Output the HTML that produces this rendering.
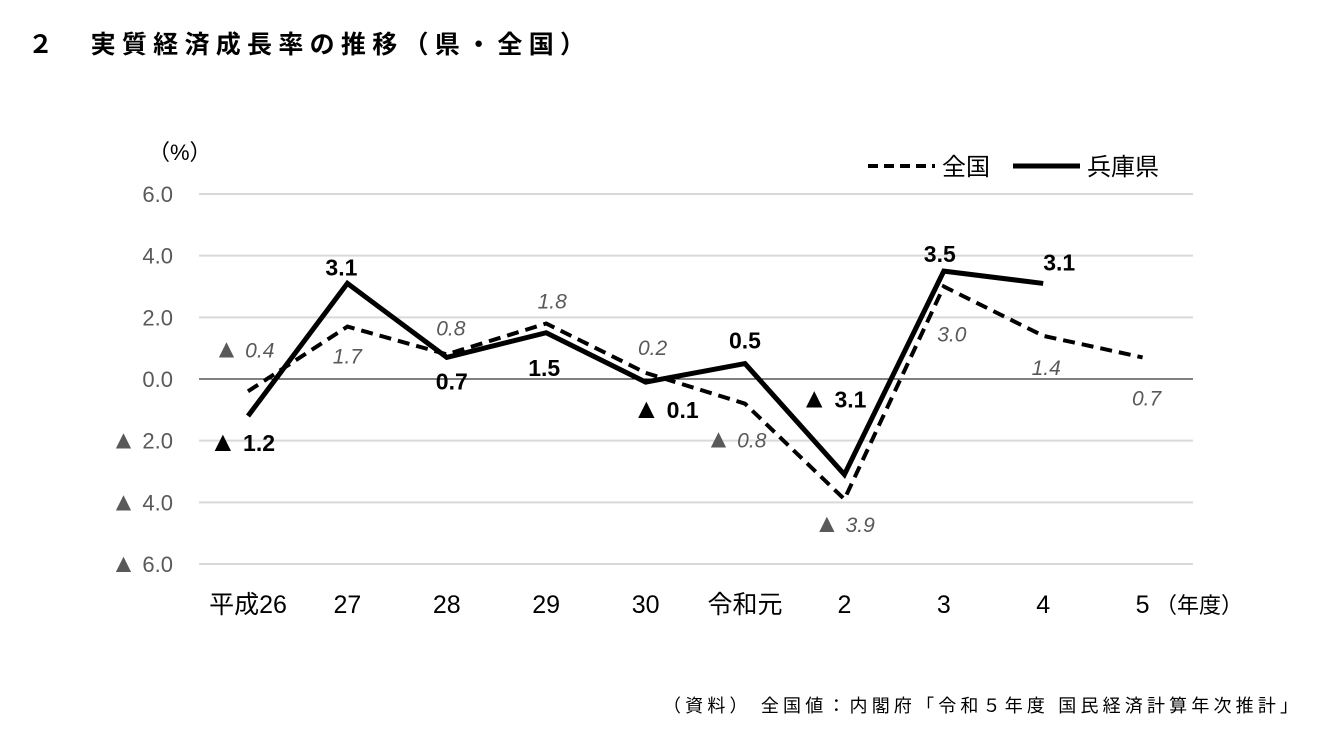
<!DOCTYPE html>
<html><head><meta charset="utf-8">
<style>
body{margin:0;background:#fff;font-family:"Liberation Sans","Noto Sans CJK JP",sans-serif;}
#wrap{position:relative;width:1328px;height:736px;overflow:hidden;}
</style></head>
<body>
<div id="wrap">
<svg id="chart" width="1328" height="736" style="position:absolute;left:0;top:0;font-family:'Liberation Sans','Noto Sans CJK JP',sans-serif">
<text x="28" y="53" font-size="25" font-weight="bold" fill="#000" textLength="557" lengthAdjust="spacing">２　実質経済成長率の推移（県・全国）</text>
<text x="148" y="160" font-size="22" fill="#000">（%）</text>
<g id="grid"></g><g id="yt"></g><g id="xt"></g><g id="lines"></g><g id="labels"></g>
<g>
<line x1="868" y1="166" x2="935" y2="166" stroke="#000" stroke-width="4" stroke-dasharray="10,6"/>
<text x="942" y="175" font-size="24" fill="#000">全国</text>
<line x1="1013" y1="166" x2="1080" y2="166" stroke="#000" stroke-width="5"/>
<text x="1087" y="175" font-size="24" fill="#000">兵庫県</text>
</g>
<text x="663" y="712" font-size="18" fill="#000" textLength="635" lengthAdjust="spacing">（資料） 全国値：内閣府「令和５年度 国民経済計算年次推計」</text>
</svg>
</div>
<script>
const categories=["平成26","27","28","29","30","令和元","2","3","4","5"];
const hyogo=[-1.2,3.1,0.7,1.5,-0.1,0.5,-3.1,3.5,3.1];
const national=[-0.4,1.7,0.8,1.8,0.2,-0.8,-3.9,3.0,1.4,0.7];
const yTicks=[6,4,2,0,-2,-4,-6];
const hyogoLabelOff=[[-6,27],[-6,-16],[5,24],[-2,35],[20,28],[0,-23],[-11,-75],[-4,-17],[16,-21]];
const natLabelOff=[[-4,-41],[0,30],[4,-26],[6,-22],[7,-25],[-9,37],[0,26],[8,48],[3,32],[4,41]];
const NS="http://www.w3.org/2000/svg";
const x0=248,dx=99.4,y0=379,ppu=30.83;
const X=i=>x0+i*dx, Y=v=>y0-v*ppu;
function mk(t,a,p){const e=document.createElementNS(NS,t);for(const k in a)e.setAttribute(k,a[k]);p.appendChild(e);return e;}
function fill(t,v,triSize){
  if(v<0){const s=mk('tspan',{'font-size':triSize,'font-style':'normal'},t);s.textContent="▲";
    const s2=mk('tspan',{},t);s2.textContent=" "+Math.abs(v).toFixed(1);}
  else t.textContent=v.toFixed(1);
}
const grid=document.getElementById('grid'),yt=document.getElementById('yt'),xt=document.getElementById('xt'),lines=document.getElementById('lines'),labels=document.getElementById('labels');
yTicks.forEach(v=>{
  const l=mk('line',{x1:199,x2:1193,y1:Y(v),y2:Y(v),stroke:v===0?'#000':'#d9d9d9','stroke-width':v===0?1:2},grid);
  
  
  const t=mk('text',{x:173,y:Y(v)+8,'font-size':22,fill:'#595959','text-anchor':'end'},yt);
  fill(t,v,26);
  
  
});
categories.forEach((c,i)=>{
  const t=mk('text',{x:X(i),y:613,'font-size':25,fill:'#000','text-anchor':'middle'},xt);
  t.textContent=c;
  
  
});
const u=mk('text',{x:1155,y:613,'font-size':22,fill:'#000'},xt);u.textContent="（年度）";


const pn=mk('polyline',{points:national.map((v,i)=>X(i)+","+Y(v)).join(" "),fill:'none',stroke:'#000','stroke-width':4,'stroke-dasharray':'12,7'},lines);


const ph=mk('polyline',{points:hyogo.map((v,i)=>X(i)+","+Y(v)).join(" "),fill:'none',stroke:'#000','stroke-width':5,'stroke-linejoin':'miter'},lines);


national.forEach((v,i)=>{
  const o=natLabelOff[i];
  const t=mk('text',{x:X(i)+o[0],y:Y(v)+o[1]+7,'font-size':21,'font-style':'italic',fill:'#595959','text-anchor':'middle'},labels);
  fill(t,v,26);
  
  
});
hyogo.forEach((v,i)=>{
  const o=hyogoLabelOff[i];
  const t=mk('text',{x:X(i)+o[0],y:Y(v)+o[1]+8,'font-size':23,'font-weight':'bold',fill:'#000','text-anchor':'middle'},labels);
  fill(t,v,28);
  
  
});
</script>
</body></html>
